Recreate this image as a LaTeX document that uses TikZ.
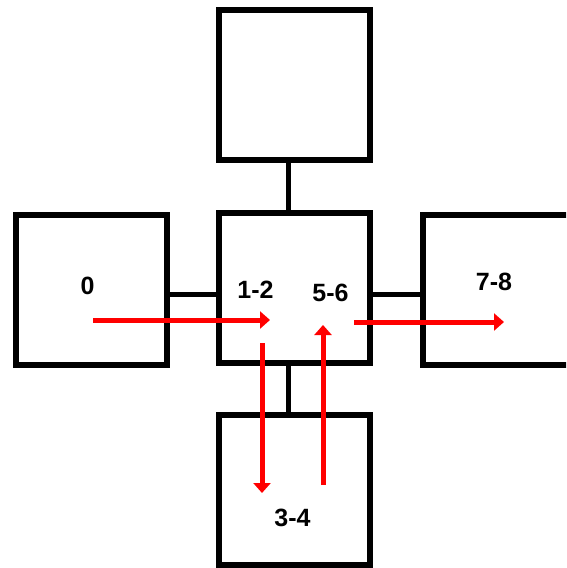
\documentclass[tikz,border=0pt]{standalone}
\usepackage{fontspec}
\setmainfont{Liberation Sans}
\usetikzlibrary{arrows.meta}
\begin{document}
\begin{tikzpicture}[x=1pt,y=-1pt,
  box/.style={draw=black,line width=6pt,minimum width=151pt,minimum height=150pt,inner sep=0pt,outer sep=0pt,fill=white},
  link/.style={draw=black,line width=5pt},
  flow/.style={draw=red,line width=5pt,-{Triangle[length=10pt,width=17pt]}},
  lbl/.style={font=\bfseries\fontsize{25}{25}\selectfont,inner sep=0pt}]
\useasboundingbox (0,0) rectangle (566,568);
\clip (0,0) rectangle (566,568);
\fill[white] (0,0) rectangle (566,568);
\node[box] (top) at (294,85) {};
\node[box] (left) at (91,289.5) {};
\node[box] (mid) at (294,287.5) {};
\node[box] (right) at (498.5,289.5) {};
\node[box] (bot) at (294,490) {};
\coordinate (vx) at (288,0);
\coordinate (hy) at (0,294);
\draw[link] (top.south -| vx) -- (mid.north -| vx);
\draw[link] (mid.south -| vx) -- (bot.north -| vx);
\draw[link] (left.east |- hy) -- (mid.west |- hy);
\draw[link] (mid.east |- hy) -- (right.west |- hy);
\node[lbl] (l0) at (87.5,286) {0};
\node[lbl] (l12) at (255.5,290) {1-2};
\node[lbl] (l56) at (330.5,292.5) {5-6};
\node[lbl] (l78) at (494,281.5) {7-8};
\node[lbl] (l34) at (292.5,518) {3-4};
\coordinate (a1s) at (93,320);
\coordinate (a1e) at (270,320);
\coordinate (a2s) at (262,343);
\coordinate (a2e) at (262,493);
\coordinate (a3s) at (323,485);
\coordinate (a3e) at (323,325);
\coordinate (a4s) at (354,322);
\coordinate (a4e) at (504,322);
\draw[flow] (a1s) -- (a1e);
\draw[flow] (a2s) -- (a2e);
\draw[flow] (a3s) -- (a3e);
\draw[flow] (a4s) -- (a4e);
\end{tikzpicture}
\end{document}
